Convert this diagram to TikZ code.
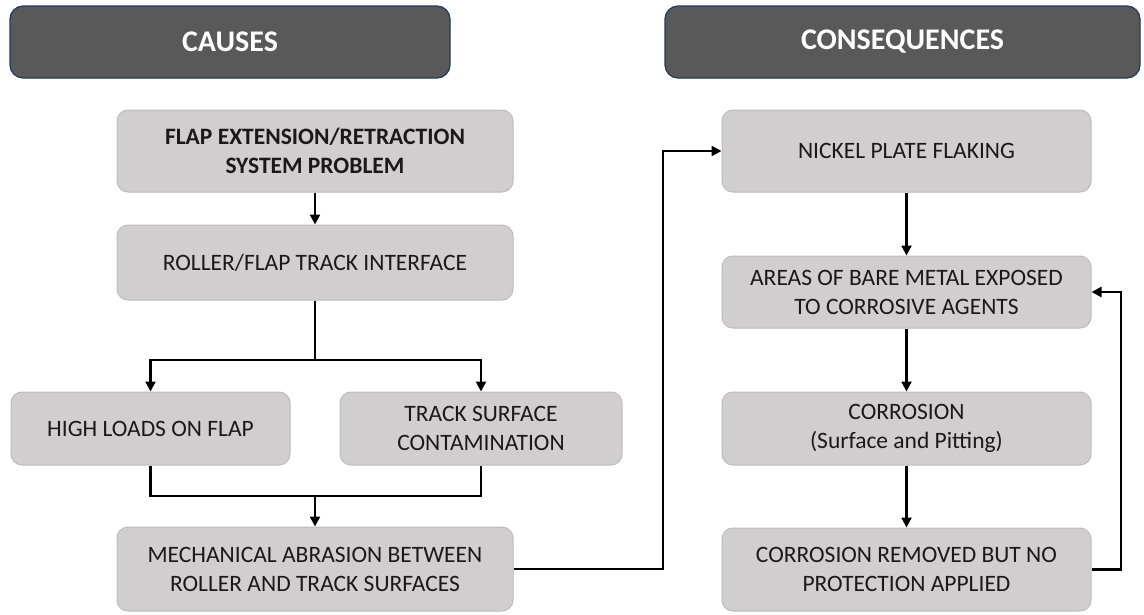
\documentclass[tikz,border=0pt]{standalone}
\usepackage{fontspec}
\setmainfont{Carlito}
\usetikzlibrary{arrows.meta}
\definecolor{boxfill}{HTML}{D0CECE}
\definecolor{boxline}{HTML}{BDBBBB}
\definecolor{headfill}{HTML}{595959}
\definecolor{headline}{HTML}{1F3864}
\tikzset{
  stepbox/.style={draw=boxline, line width=1pt, fill=boxfill, rounded corners=11pt, align=center, inner sep=0pt,
    font=\fontsize{23.5}{29}\selectfont, text=black!90},
  headbox/.style={draw=headline, line width=1.2pt, fill=headfill, rounded corners=13pt, inner sep=0pt,
    font=\fontsize{30}{34}\selectfont\bfseries, text=white},
  arr/.style={line width=2.2pt, -{Triangle[length=10pt,width=10pt]}},
  ln/.style={line width=2.2pt}
}
\begin{document}
\begin{tikzpicture}[x=1pt,y=-1pt]
\useasboundingbox (0,0) rectangle (1144,614);
\node[headbox, minimum width=440, minimum height=72] (causes) at (230,42) {CAUSES};
\node[headbox, minimum width=475, minimum height=72] (conseq) at (902.5,42) {CONSEQUENCES};

\node[stepbox, minimum width=396, minimum height=82] (flap) at (315,151) {\bfseries FLAP EXTENSION/RETRACTION\\\bfseries SYSTEM PROBLEM};
\node[stepbox, minimum width=396, minimum height=75] (roller) at (315,262.5) {ROLLER/FLAP TRACK INTERFACE};
\node[stepbox, minimum width=279, minimum height=73] (high) at (150.5,428.5) {HIGH LOADS ON FLAP};
\node[stepbox, minimum width=282, minimum height=73] (track) at (481,428.5) {TRACK SURFACE\\CONTAMINATION};
\node[stepbox, minimum width=396, minimum height=84] (mech) at (315,569) {MECHANICAL ABRASION BETWEEN\\ROLLER AND TRACK SURFACES};

\node[stepbox, minimum width=369, minimum height=82] (nickel) at (906.5,151) {NICKEL PLATE FLAKING};
\node[stepbox, minimum width=369, minimum height=72] (areas) at (906.5,292) {AREAS OF BARE METAL EXPOSED\\TO CORROSIVE AGENTS};
\node[stepbox, minimum width=369, minimum height=73] (corr) at (906.5,428.5) {CORROSION\\(Surface and Pitting)};
\node[stepbox, minimum width=369, minimum height=83] (removed) at (906.5,569.5) {CORROSION REMOVED BUT NO\\PROTECTION APPLIED};

\coordinate (split) at (315,360);
\coordinate (join) at (315,496);
\coordinate (lx) at (663,0);
\coordinate (rx) at (1121,0);

\draw[arr] (flap.south) -- (roller.north);
\draw[ln] (roller.south) -- (split);
\draw[arr] (split) -| (high.north);
\draw[arr] (split) -| (track.north);
\draw[ln] (high.south) |- (join) -| (track.south);
\draw[arr] (join) -- (mech.north);
\draw[arr] (mech.east) -- (mech.east -| lx) |- (nickel.west);

\draw[arr] (nickel.south) -- (areas.north);
\draw[arr] (areas.south) -- (corr.north);
\draw[arr] (corr.south) -- (removed.north);
\draw[arr] (removed.east) -- (removed.east -| rx) |- (areas.east);
\end{tikzpicture}
\end{document}
